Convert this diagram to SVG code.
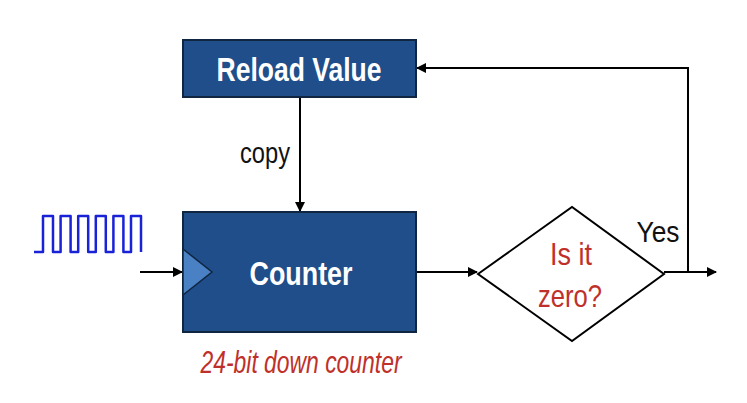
<svg xmlns="http://www.w3.org/2000/svg" width="747" height="403" viewBox="0 0 747 403">
<defs>
<marker id="ah" markerWidth="10" markerHeight="10" refX="9" refY="5" orient="auto" markerUnits="userSpaceOnUse">
<path d="M0,0 L10,5 L0,10 Z" fill="#000"/>
</marker>
<style>
.box{fill:#1f4e8a;stroke:#10253f;stroke-width:2}
.wt{fill:#fff;font-family:"Liberation Sans",Arial,sans-serif;font-weight:bold;font-size:34px}
.ln{fill:none;stroke:#000;stroke-width:2}
.lbl{fill:#111;font-family:"Liberation Sans",Arial,sans-serif;font-size:30px}
.red{fill:#c0302a;font-family:"Liberation Sans",Arial,sans-serif;font-size:32px}
</style>
</defs>
<rect width="747" height="403" fill="#fff"/>
<g id="connectors">
<line class="ln" x1="300" y1="97" x2="300" y2="211" marker-end="url(#ah)"/>
<line class="ln" x1="140" y1="272" x2="182" y2="272" marker-end="url(#ah)"/>
<line class="ln" x1="417" y1="272" x2="477" y2="272" marker-end="url(#ah)"/>
<line class="ln" x1="664" y1="272" x2="716" y2="272" marker-end="url(#ah)"/>
<polyline class="ln" points="688,272 688,68 417,68" marker-end="url(#ah)"/>
<text class="lbl" x="265" y="163" text-anchor="middle" textLength="50" lengthAdjust="spacingAndGlyphs">copy</text>
<text class="lbl" x="658" y="242" text-anchor="middle" font-size="33" textLength="43" lengthAdjust="spacingAndGlyphs">Yes</text>
</g>
<g id="reload">
<rect class="box" x="183" y="40" width="233" height="57"/>
<text class="wt" x="299" y="81" text-anchor="middle" textLength="165" lengthAdjust="spacingAndGlyphs">Reload Value</text>
</g>
<g id="counter">
<rect class="box" x="183" y="212" width="233" height="120"/>
<polygon points="183,249 212,272 183,295" fill="#4a80c4" stroke="#10253f" stroke-width="1.5"/>
<text class="wt" x="301" y="285" text-anchor="middle" textLength="103" lengthAdjust="spacingAndGlyphs">Counter</text>
<text x="301" y="373" text-anchor="middle" fill="#c0302a" font-family="'Liberation Sans',Arial,sans-serif" font-style="italic" font-size="32" textLength="201" lengthAdjust="spacingAndGlyphs">24-bit down counter</text>
</g>
<g id="clock">
<polyline fill="none" stroke="#1a22d8" stroke-width="2.5" stroke-linejoin="round" points="34,252 43,252 43,216 53,216 53,252 60.6,252 60.6,216 70.6,216 70.6,252 78.2,252 78.2,216 88.2,216 88.2,252 95.8,252 95.8,216 105.8,216 105.8,252 113.4,252 113.4,216 123.4,216 123.4,252 131,252 131,216 141,216 141,252"/>
</g>
<g id="decision">
<polygon points="478,274 572,207 664,274 572,341" fill="#fff" stroke="#000" stroke-width="2"/>
<text class="red" x="571" y="265" text-anchor="middle" textLength="42" lengthAdjust="spacingAndGlyphs">Is it</text>
<text class="red" x="570" y="307" text-anchor="middle" textLength="64" lengthAdjust="spacingAndGlyphs">zero?</text>
</g>
</svg>
